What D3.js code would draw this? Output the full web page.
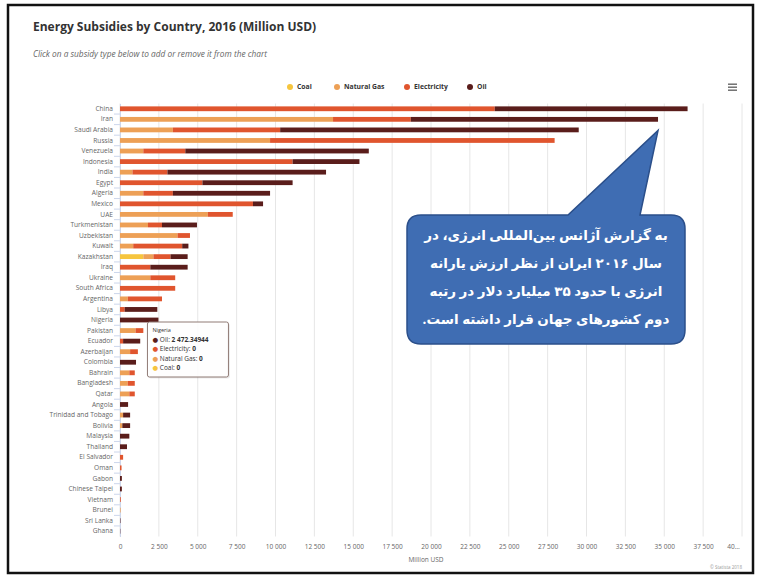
<!DOCTYPE html>
<html>
<head>
<meta charset="utf-8">
<script src="https://cdn.jsdelivr.net/npm/d3@7"></script>
<style>
body { margin: 0; background: #fff; }
text { font-family: "Open Sans", "DejaVu Sans", sans-serif; }
</style>
</head>
<body>
<div id="chart"></div>
<script>
// values in million USD
var countries = ["China", "Iran", "Saudi Arabia", "Russia", "Venezuela", "Indonesia", "India", "Egypt", "Algeria", "Mexico",
    "UAE", "Turkmenistan", "Uzbekistan", "Kuwait", "Kazakhstan", "Iraq", "Ukraine", "South Africa", "Argentina", "Libya",
    "Nigeria", "Pakistan", "Ecuador", "Azerbaijan", "Colombia", "Bahrain", "Bangladesh", "Qatar", "Angola", "Trinidad and Tobago",
    "Bolivia", "Malaysia", "Thailand", "El Salvador", "Oman", "Gabon", "Chinese Taipei", "Vietnam", "Brunei", "Sri Lanka", "Ghana"];
var coal = [0, 0, 0, 0, 0, 0, 0, 0, 0, 0,
    0, 0, 0, 0, 1500, 0, 0, 0, 0, 0,
    0, 0, 0, 0, 0, 0, 0, 0, 0, 0,
    0, 0, 0, 0, 0, 0, 0, 0, 0, 0, 0];
var naturalGas = [0, 13700, 3400, 9650, 1500, 0, 800, 0, 1500, 0,
    5650, 1800, 3700, 850, 650, 0, 1950, 0, 500, 0,
    0, 1000, 0, 650, 0, 600, 500, 600, 0, 200,
    150, 0, 0, 0, 0, 0, 0, 0, 40, 0, 0];
var electricity = [24100, 5000, 6900, 18300, 2700, 11100, 2250, 5300, 1900, 8550,
    1600, 900, 800, 3150, 1100, 1950, 1600, 3550, 2200, 300,
    0, 500, 200, 500, 0, 350, 450, 350, 0, 0,
    0, 0, 0, 200, 100, 0, 0, 50, 0, 0, 0];
var oil = [12400, 15900, 19200, 0, 11800, 4300, 10200, 5800, 6250, 650,
    0, 2250, 0, 400, 1100, 2400, 0, 0, 0, 2100,
    2472.34944, 0, 1100, 0, 1030, 0, 0, 0, 520, 450,
    500, 600, 450, 0, 0, 120, 120, 0, 0, 30, 20];
var seriesNames = ["Coal", "Natural Gas", "Electricity", "Oil"];
var seriesColors = ["#f6c53e", "#eda056", "#e0552e", "#5a1d1b"];
var tickValues = [0, 2500, 5000, 7500, 10000, 12500, 15000, 17500, 20000, 22500, 25000, 27500, 30000, 32500, 35000, 37500, 40000];
var noteLines = ["به گزارش آژانس بین‌المللی انرژی، در", "سال ۲۰۱۶ ایران از نظر ارزش یارانه", "انرژی با حدود ۳۵ میلیارد دلار در رتبه", "دوم کشورهای جهان قرار داشته است."];

var svg = d3.select("#chart").append("svg")
    .attr("width", 761)
    .attr("height", 576);

// page frame
svg.append("rect")
    .attr("x", 8).attr("y", 5)
    .attr("width", 745).attr("height", 568)
    .attr("fill", "#fff")
    .attr("stroke", "#111")
    .attr("stroke-width", 2.5);

svg.append("text")
    .attr("x", 33).attr("y", 31)
    .attr("font-size", 12)
    .attr("font-weight", "bold")
    .attr("fill", "#333")
    .text("Energy Subsidies by Country, 2016 (Million USD)");

svg.append("text")
    .attr("x", 33).attr("y", 57)
    .attr("font-size", 8.3)
    .attr("font-style", "italic")
    .attr("fill", "#666")
    .text("Click on a subsidy type below to add or remove it from the chart");

var rows = countries.map(function (c, i) {
    return {country: c, "Coal": coal[i], "Natural Gas": naturalGas[i], "Electricity": electricity[i], "Oil": oil[i]};
});
var layers = d3.stack().keys(seriesNames)(rows);

var xscale = d3.scaleLinear().domain([0, 40000]).range([120, 742]);
var yscale = d3.scaleBand().domain(countries).range([103.5, 536.5]);
var bw = yscale.bandwidth();

//grid lines
svg.append("g").selectAll("line").data(tickValues).enter()
    .append("line")
    .attr("x1", function (d) { return xscale(d); })
    .attr("x2", function (d) { return xscale(d); })
    .attr("y1", 103.5).attr("y2", 536.5)
    .attr("stroke", "#e6e6e6");

var fmt = function (d) {
    if (d == 40000) return "40…";
    return d3.format(",")(d).replace(/,/g, " ");
};
var xAxis = d3.axisBottom(xscale).tickValues(tickValues).tickSize(0).tickPadding(0).tickFormat(fmt);
var gx = svg.append("g").attr("transform", "translate(0,544)").call(xAxis);
gx.select(".domain").remove();
gx.selectAll("text").attr("font-size", 6.5).attr("fill", "#666").attr("font-family", "Open Sans");
gx.selectAll(".tick").filter(function (d) { return d == 40000; }).select("text").attr("dx", -9);

var yAxis = d3.axisLeft(yscale).tickSize(0).tickPadding(7);
var gy = svg.append("g").attr("transform", "translate(120,0)").call(yAxis);
gy.select(".domain").attr("stroke", "#ccd6eb");
gy.selectAll("text").attr("font-size", 6.6).attr("fill", "#666").attr("font-family", "Open Sans");

// category tick marks between rows
svg.append("g").selectAll("line").data(countries.slice(1)).enter()
    .append("line")
    .attr("x1", 114).attr("x2", 120)
    .attr("y1", function (d) { return yscale(d); })
    .attr("y2", function (d) { return yscale(d); })
    .attr("stroke", "#ccd6eb");

svg.append("text")
    .attr("x", 426).attr("y", 562)
    .attr("text-anchor", "middle")
    .attr("font-size", 6.5)
    .attr("fill", "#666")
    .text("Million USD");

svg.append("text")
    .attr("x", 742).attr("y", 569)
    .attr("text-anchor", "end")
    .attr("font-size", 4.5)
    .attr("fill", "#999")
    .text("© Statista 2018");

// stacked bars
svg.append("g").selectAll("g").data(layers).enter()
    .append("g")
    .attr("fill", function (d, i) { return seriesColors[i]; })
    .selectAll("rect").data(function (d) { return d; }).enter()
    .append("rect")
    .attr("x", function (d) { return xscale(d[0]); })
    .attr("width", function (d) { return Math.max(0, xscale(d[1]) - xscale(d[0])); })
    .attr("y", function (d) { return yscale(d.data.country) + bw / 2 - 2.4; })
    .attr("height", 4.8);

// legend
var legendX = [290, 337, 407, 470];
var legend = svg.append("g").selectAll("g").data(seriesNames).enter()
    .append("g")
    .attr("transform", function (d, i) { return "translate(" + legendX[i] + ",87)"; });
legend.append("circle").attr("r", 3).attr("fill", function (d, i) { return seriesColors[i]; });
legend.append("text")
    .attr("x", 7).attr("y", 2.4)
    .attr("font-size", 6.8)
    .attr("font-weight", "bold")
    .attr("fill", "#333")
    .text(function (d) { return d; });

// menu icon
svg.append("g").selectAll("rect").data([0, 1, 2]).enter()
    .append("rect")
    .attr("x", 728).attr("y", function (d) { return 83.5 + d * 3; })
    .attr("width", 9).attr("height", 1.4)
    .attr("fill", "#666");

// tooltip for Nigeria
var ni = countries.indexOf("Nigeria");
var tipX = xscale(oil[ni]) - 11;
var tipY = yscale("Nigeria") + bw / 2 + 2;
var tip = svg.append("g").attr("transform", "translate(" + tipX + "," + tipY + ")");
tip.append("rect")
    .attr("x", 1.5).attr("y", 1.5)
    .attr("width", 81).attr("height", 55)
    .attr("rx", 2)
    .attr("fill", "#000").attr("opacity", 0.08);
tip.append("rect")
    .attr("width", 81).attr("height", 55)
    .attr("rx", 2)
    .attr("fill", "#fff").attr("fill-opacity", 0.92)
    .attr("stroke", "#8f7a74");
tip.append("text")
    .attr("x", 5).attr("y", 10)
    .attr("font-size", 5.5)
    .attr("fill", "#333")
    .text("Nigeria");
var tipRows = [
    {name: "Oil", value: oil[ni], color: seriesColors[3]},
    {name: "Electricity", value: electricity[ni], color: seriesColors[2]},
    {name: "Natural Gas", value: naturalGas[ni], color: seriesColors[1]},
    {name: "Coal", value: coal[ni], color: seriesColors[0]}
];
var tipText = tip.selectAll("text.row").data(tipRows).enter()
    .append("text")
    .attr("class", "row")
    .attr("x", 5)
    .attr("y", function (d, i) { return 19.5 + i * 9.5; })
    .attr("font-size", 6.5)
    .attr("fill", "#333");
tipText.append("tspan").attr("fill", function (d) { return d.color; }).text("● ");
tipText.append("tspan").text(function (d) { return d.name + ": "; });
tipText.append("tspan").attr("font-weight", "bold")
    .text(function (d) { return d3.format(",")(d.value).replace(/,/g, " "); });

// callout pointing at Iran
var ir = countries.indexOf("Iran");
var px = xscale(naturalGas[ir] + electricity[ir] + oil[ir]);
var py = yscale("Iran") + bw / 2 + 11;
var bx0 = 407, bx1 = 685, by0 = 215, by1 = 344, r = 14;
var callout = "M" + (bx0 + r) + "," + by0 +
    "L568," + by0 + "L" + px + "," + py + "L640," + by0 +
    "L" + (bx1 - r) + "," + by0 +
    "Q" + bx1 + "," + by0 + " " + bx1 + "," + (by0 + r) +
    "L" + bx1 + "," + (by1 - r) +
    "Q" + bx1 + "," + by1 + " " + (bx1 - r) + "," + by1 +
    "L" + (bx0 + r) + "," + by1 +
    "Q" + bx0 + "," + by1 + " " + bx0 + "," + (by1 - r) +
    "L" + bx0 + "," + (by0 + r) +
    "Q" + bx0 + "," + by0 + " " + (bx0 + r) + "," + by0 + "Z";
svg.append("path")
    .attr("d", callout)
    .attr("fill", "#3f6db3")
    .attr("stroke", "#2b4f8a")
    .attr("stroke-width", 1.5);

svg.append("g").selectAll("text").data(noteLines).enter()
    .append("text")
    .attr("x", 546)
    .attr("y", function (d, i) { return 240 + i * 28; })
    .attr("text-anchor", "middle")
    .attr("direction", "rtl")
    .attr("font-family", "DejaVu Sans")
    .attr("font-size", 13.5)
    .attr("font-weight", "bold")
    .attr("fill", "#fff")
    .text(function (d) { return d; });
</script>
</body>
</html>
